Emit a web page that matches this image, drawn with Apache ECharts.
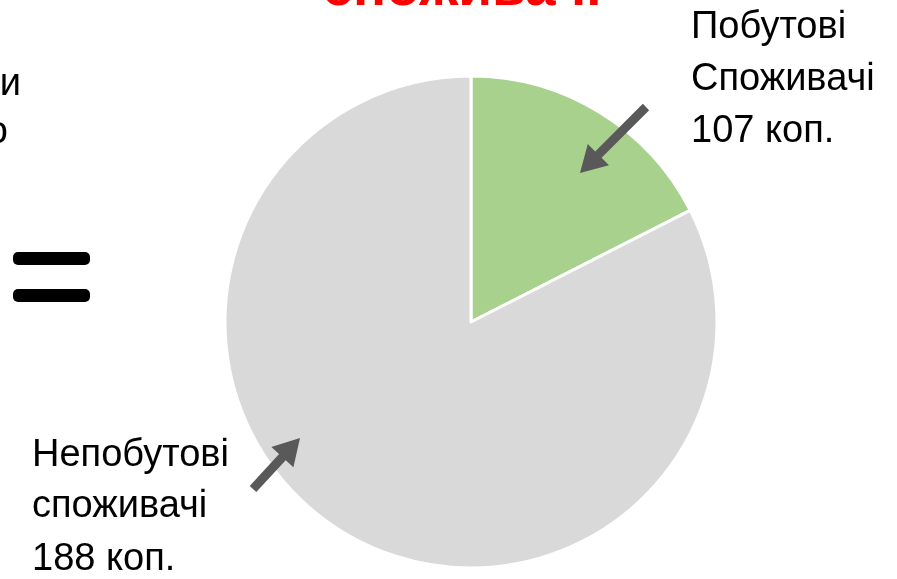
<!DOCTYPE html>
<html>
<head>
<meta charset="utf-8">
<script src="https://cdn.jsdelivr.net/npm/echarts@6/dist/echarts.min.js"></script>
<style>
  html, body { margin: 0; padding: 0; background: #fff; }
  #main { width: 897px; height: 579px; }
</style>
</head>
<body>
<div id="main"></div>
<script>
    var myChart = echarts.init(document.getElementById('main'));

    // дані
    var names = ['Побутові споживачі', 'Непобутові споживачі'];
    var shares = [17.5, 82.5];
    var kop = [107, 188];
    var colors = ['#A9D18E', '#D9D9D9'];

    var FONT = '"Liberation Sans", Arial, sans-serif';

    // стрілка від (x1,y1) до (x2,y2)
    function arrow(x1, y1, x2, y2) {
        var dx = x2 - x1, dy = y2 - y1;
        var len = Math.sqrt(dx * dx + dy * dy);
        var ux = dx / len, uy = dy / len;
        var nx = -uy, ny = ux;
        var sw = 4.5, hw = 15, hl = 26;
        var bx = x2 - ux * hl, by = y2 - uy * hl;
        var pts = [
            [x1 + nx * sw, y1 + ny * sw],
            [bx + nx * sw, by + ny * sw],
            [bx + nx * hw, by + ny * hw],
            [x2, y2],
            [bx - nx * hw, by - ny * hw],
            [bx - nx * sw, by - ny * sw],
            [x1 - nx * sw, y1 - ny * sw]
        ];
        return {type: 'polygon', shape: {points: pts}, style: {fill: '#595959'}, z: 10};
    }

    // y — верх рядка тексту
    function txt(x, y, s, extra) {
        var st = {text: s, x: x, y: y, fill: '#000', font: '38px ' + FONT};
        for (var k in extra) st[k] = extra[k];
        return {type: 'text', style: st, z: 10};
    }

    option = {
        backgroundColor: '#fff',
        animation: false,
        series: [{
            type: 'pie',
            center: [471, 322],
            radius: [0, 246],
            startAngle: 90,
            clockwise: true,
            label: {show: false},
            labelLine: {show: false},
            emphasis: {disabled: true},
            itemStyle: {borderColor: '#fff', borderWidth: 3},
            data: names.map(function (n, i) {
                return {name: n, value: shares[i], itemStyle: {color: colors[i]}};
            })
        }],
        graphic: [
            // заголовок (обрізаний зверху)
            txt(462, -38, 'споживачі', {fill: '#FF0000', font: 'bold 55px ' + FONT, textAlign: 'center'}),
            // обрізаний текст зліва
            txt(21, 66, 'и', {textAlign: 'right'}),
            txt(8, 114, 'о', {textAlign: 'right'}),
            // знак рівності
            {type: 'rect', shape: {x: 13, y: 252, width: 77, height: 13, r: 5}, style: {fill: '#000'}},
            {type: 'rect', shape: {x: 13, y: 289, width: 77, height: 13, r: 5}, style: {fill: '#000'}},
            // підписи
            txt(691, 9, 'Побутові'),
            txt(691, 61, 'Споживачі'),
            txt(691, 113, kop[0] + ' коп.'),
            txt(32, 437, 'Непобутові'),
            txt(32, 488, 'споживачі'),
            txt(32, 541, kop[1] + ' коп.'),
            arrow(646, 107, 580, 173),
            arrow(253, 489, 300, 438)
        ]
    };

    myChart.setOption(option);
</script>
</body>
</html>
